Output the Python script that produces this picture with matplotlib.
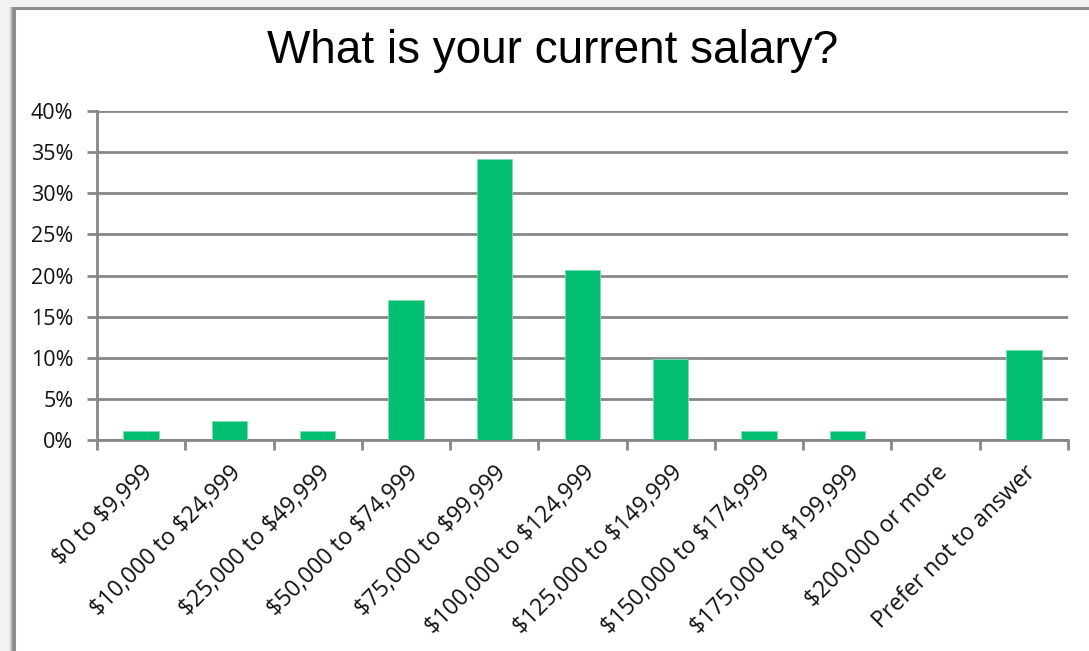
import matplotlib
matplotlib.use("Agg")
import matplotlib.pyplot as plt
from matplotlib.patches import Rectangle
from matplotlib.ticker import FuncFormatter, FixedLocator
import numpy as np

plt.rcParams['text.parse_math'] = False

# Survey data: share of respondents per salary band (percent)
categories = ["$0 to $9,999", "$10,000 to $24,999", "$25,000 to $49,999",
              "$50,000 to $74,999", "$75,000 to $99,999", "$100,000 to $124,999",
              "$125,000 to $149,999", "$150,000 to $174,999", "$175,000 to $199,999",
              "$200,000 or more", "Prefer not to answer"]
values = [1.1, 2.3, 1.1, 17.0, 34.2, 20.7, 9.8, 1.1, 1.1, 0.0, 11.0]
yticks = [0, 5, 10, 15, 20, 25, 30, 35, 40]

fig = plt.figure(figsize=(10.89, 6.51), dpi=100)
fig.patch.set_facecolor("#f2f2f2")

#--------------------------------------------#
# Chart frame (white box with gray border)
#--------------------------------------------#
W, H = 1089., 651.
for i, a in enumerate([0.05, 0.08, 0.12, 0.18]):
    fig.patches.append(Rectangle(((9 + i) / W, 0), 6 / W, 1 - 7 / H,
                                 transform=fig.transFigure, facecolor="#000000",
                                 alpha=a, edgecolor="none", zorder=0))
fig.patches.append(Rectangle((14 / W, -0.05), 1.1, 1 - 8 / H + 0.05,
                             transform=fig.transFigure, facecolor="white",
                             edgecolor="#8c8c8c", linewidth=2.2, zorder=1))

ax = fig.add_axes([97 / W, 1 - 440 / H, (1068 - 97) / W, (440 - 111) / H])
ax.set_zorder(2)

x = np.arange(len(categories))
ax.bar(x, values, width=0.4, color="#00bf6f", edgecolor="#7fdcb0",
       linewidth=0.6, zorder=3)

ax.set_xlim(-0.5, len(categories) - 0.5)
ax.set_ylim(0, 40)
ax.set_yticks(yticks)
ax.yaxis.set_major_formatter(FuncFormatter(lambda v, p: "%d%%" % v))
ax.grid(axis="y", color="#878787", linewidth=2.0, zorder=1)

# category labels at centres, tick marks at the boundaries
ax.set_xticks(x)
ax.set_xticklabels(categories, rotation=45, ha="right", rotation_mode="anchor",
                   fontsize=16.5, family="Open Sans", color="#111111")
ax.xaxis.set_minor_locator(FixedLocator(np.arange(-0.5, len(categories), 1.0)))
ax.tick_params(axis="x", which="major", length=0, pad=15)
ax.tick_params(axis="x", which="minor", length=7, width=2, color="#878787",
               direction="out")
ax.tick_params(axis="y", length=7, width=2, color="#878787", pad=10,
               labelsize=15.5, labelcolor="#111111")
for lab in ax.get_yticklabels():
    lab.set_family("Open Sans")

for s in ["top", "right"]:
    ax.spines[s].set_visible(False)
for s in ["left", "bottom"]:
    ax.spines[s].set_color("#878787")
    ax.spines[s].set_linewidth(2)

fig.text(553 / W, 1 - 51 / H, "What is your current salary?", ha="center",
         va="center", fontsize=33, family="Liberation Sans", color="black",
         zorder=5)

plt.savefig("out.png", dpi=100, facecolor=fig.get_facecolor())
